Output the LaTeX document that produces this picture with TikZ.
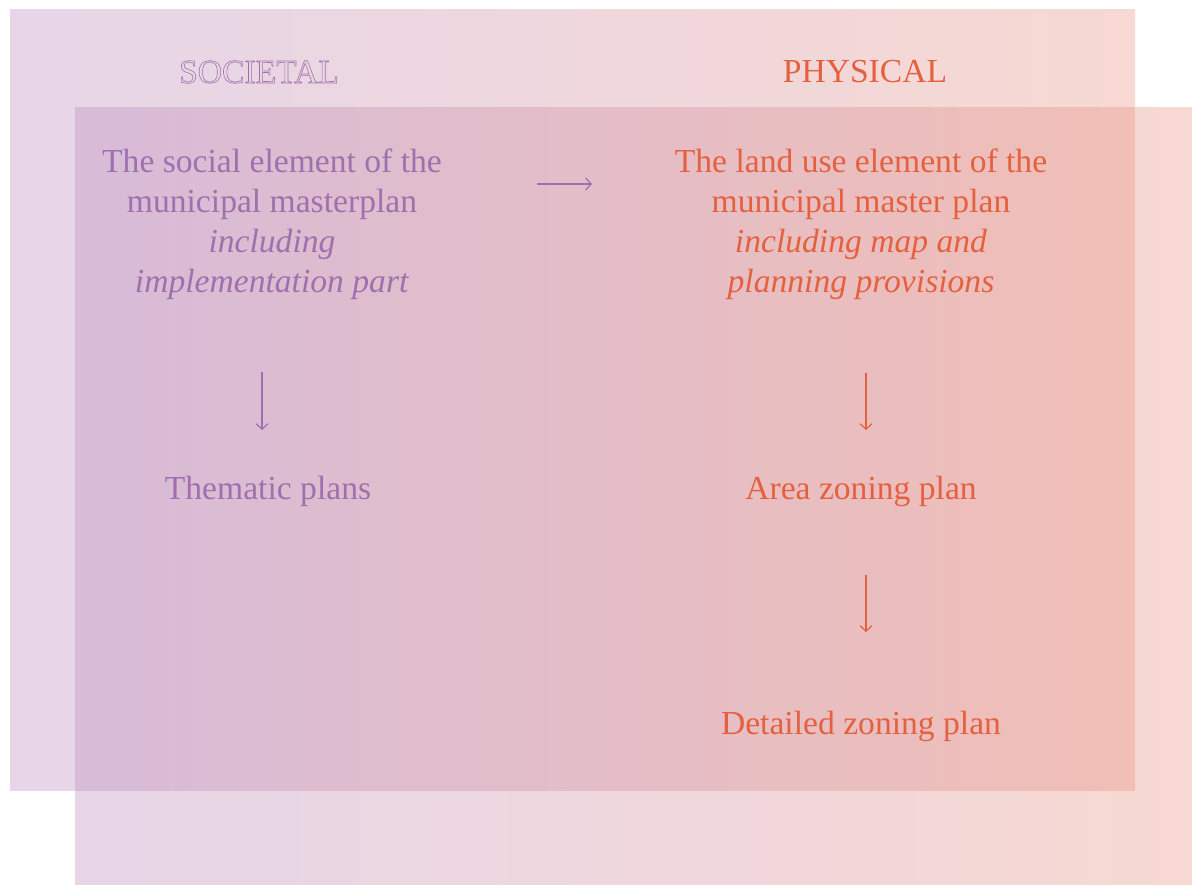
\documentclass[tikz,border=0pt]{standalone}
\usepackage{fontspec}
\setmainfont{Liberation Serif}
\usetikzlibrary{arrows.meta}
\definecolor{lilac}{RGB}{186,141,191}
\definecolor{salmon}{RGB}{233,147,130}
\definecolor{soctext}{RGB}{160,112,174}
\definecolor{phytext}{RGB}{228,96,63}
% hollow (stroked) glyphs
\newcommand{\hollowtext}[1]{\special{pdf:literal direct 1 Tr 0.6 w}#1\special{pdf:literal direct 0 Tr}}
\tikzset{
  panel/.style={left color=lilac, right color=salmon, fill opacity=0.36, draw=none},
  body/.style={font=\fontsize{33.6}{40}\selectfont, align=center, inner sep=0pt},
  soc/.style={body, text=soctext},
  phy/.style={body, text=phytext},
  flow/.style={line width=1.2pt, -{Straight Barb[length=5.5pt,width=12pt,line width=1.2pt]}},
}
\begin{document}
\begin{tikzpicture}[x=1pt,y=-1pt]
\useasboundingbox (0,0) rectangle (1192,885);
% two overlapping translucent panels
\shade[panel] (10,10) rectangle (1135,790);
\shade[panel] (75,108) rectangle (1192,885);
% column headings
\node[soc] (soch) at (259,72) {\hollowtext{SOCIETAL}};
\node[phy] (phyh) at (865,72) {PHYSICAL};
% plans
\node[soc] (social) at (272,224) {The social element of the\\municipal masterplan\\\textit{including}\\\textit{implementation part}};
\node[phy] (landuse) at (861,224) {The land use element of the\\municipal master plan\\\textit{including map and}\\\textit{planning provisions}};
\node[soc] (thematic) at (268,491) {Thematic plans};
\node[phy] (area) at (861,491) {Area zoning plan};
\node[phy] (detailed) at (861,726) {Detailed zoning plan};
% arrows
\coordinate (h1) at (537,184);
\coordinate (h2) at (592,184);
\coordinate (l1) at (262,372);
\coordinate (l2) at (262,430);
\coordinate (r1) at (866,373);
\coordinate (r2) at (866,430);
\coordinate (s1) at (866,575);
\coordinate (s2) at (866,632);
\draw[flow, soctext] (h1) -- (h2);
\draw[flow, soctext] (l1) -- (l2);
\draw[flow, phytext] (r1) -- (r2);
\draw[flow, phytext] (s1) -- (s2);
\end{tikzpicture}
\end{document}
